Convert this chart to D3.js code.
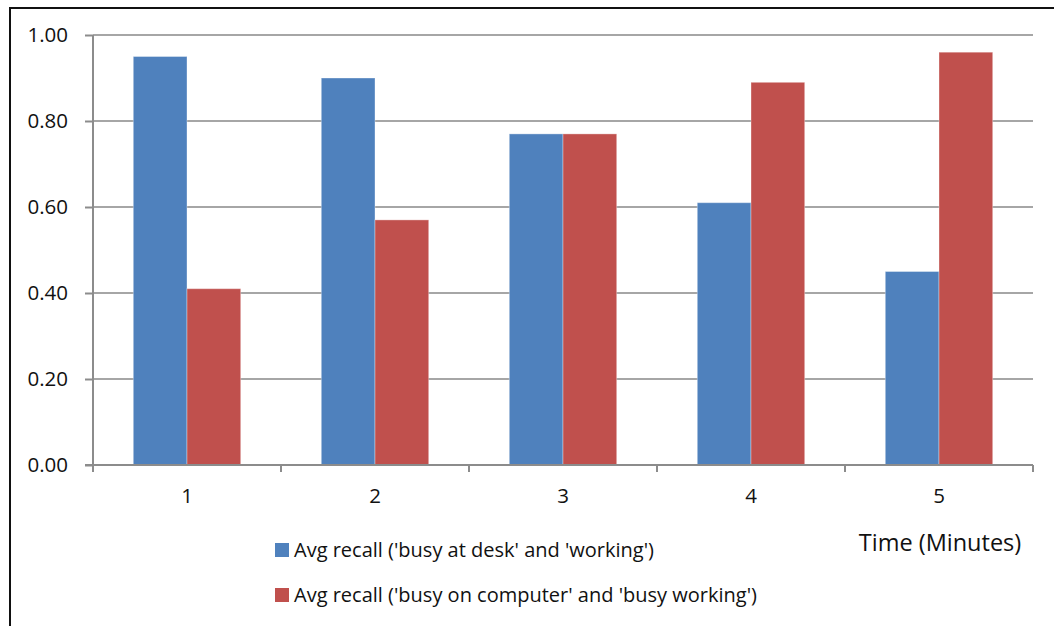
<!DOCTYPE html>
<html>
<head>
<meta charset="utf-8">
<script src="https://cdn.jsdelivr.net/npm/d3@7"></script>
<style>
  html, body { margin: 0; padding: 0; background: #ffffff; }
  svg { display: block; }
  text { font-family: "Open Sans", "Liberation Sans", sans-serif; fill: #111; }
</style>
</head>
<body>
<svg id="chart" width="1054" height="626"></svg>
<script>
// Minutes after the event
const categories = ["1", "2", "3", "4", "5"];
// Average recall per minute for each labelling pair
const seriesNames = [
  "Avg recall ('busy at desk' and 'working')",
  "Avg recall ('busy on computer' and 'busy working')"
];
const deskWorking = [0.95, 0.90, 0.77, 0.61, 0.45];
const computerBusyWorking = [0.41, 0.57, 0.77, 0.89, 0.96];
const yTicks = [0, 0.2, 0.4, 0.6, 0.8, 1.0];
const xTitle = "Time (Minutes)";
const colors = ["#4F81BD", "#C0504D"];

const seriesValues = [deskWorking, computerBusyWorking];

const svg = d3.select("#chart");

// Outer chart frame
svg.append("rect")
  .attr("x", 10).attr("y", 8)
  .attr("width", 1100).attr("height", 700)
  .attr("fill", "none")
  .attr("stroke", "#111").attr("stroke-width", 2);

const plot = { left: 93, right: 1033, top: 35, bottom: 465 };

const x = d3.scaleBand()
  .domain(categories)
  .range([plot.left, plot.right])
  .paddingInner(0)
  .paddingOuter(0);

const inner = d3.scaleBand()
  .domain(d3.range(seriesValues.length))
  .range([0, x.bandwidth()])
  .paddingInner(0)
  .paddingOuter(0.75);

const y = d3.scaleLinear().domain([0, 1]).range([plot.bottom, plot.top]);

// Horizontal gridlines
svg.append("g")
  .selectAll("line")
  .data(yTicks.filter(d => d > 0))
  .join("line")
  .attr("x1", plot.left).attr("x2", plot.right)
  .attr("y1", d => y(d)).attr("y2", d => y(d))
  .attr("stroke", "#a6a6a6").attr("stroke-width", 2);

// Bars
seriesValues.forEach((vals, si) => {
  svg.append("g")
    .selectAll("rect")
    .data(vals)
    .join("rect")
    .attr("x", (d, i) => x(categories[i]) + inner(si))
    .attr("y", d => y(d))
    .attr("width", inner.bandwidth())
    .attr("height", d => y(0) - y(d))
    .attr("fill", colors[si])
    .attr("stroke", "rgba(255,255,255,0.35)")
    .attr("stroke-width", 1);
});

// Y axis
const yAxis = d3.axisLeft(y)
  .tickValues(yTicks)
  .tickFormat(d3.format(".2f"))
  .tickSize(8)
  .tickPadding(17);

const gy = svg.append("g")
  .attr("transform", `translate(${plot.left},0)`)
  .call(yAxis);
gy.select(".domain").attr("stroke", "#8c8c8c").attr("stroke-width", 2)
  .attr("d", `M0,${plot.top}V${plot.bottom}`);
gy.selectAll(".tick line").attr("stroke", "#8c8c8c").attr("stroke-width", 2);
gy.selectAll(".tick text")
  .style("font-size", "20.5px")
  .style("fill", "#111");

// X axis with ticks on category boundaries
const gx = svg.append("g")
  .attr("transform", `translate(0,${plot.bottom})`)
  .call(d3.axisBottom(x).tickSize(0).tickPadding(23));
gx.select(".domain").attr("stroke", "#8c8c8c").attr("stroke-width", 2)
  .attr("d", `M${plot.left - 8},0H${plot.right}`);
gx.selectAll(".tick text").style("font-size", "20.5px").style("fill", "#111");

const boundaries = categories.map(c => x(c)).concat([x(categories[categories.length - 1]) + x.bandwidth()]);
gx.append("g")
  .selectAll("line")
  .data(boundaries)
  .join("line")
  .attr("x1", d => d).attr("x2", d => d)
  .attr("y1", 0).attr("y2", 7)
  .attr("stroke", "#8c8c8c").attr("stroke-width", 2);

// Axis title
svg.append("text")
  .attr("x", 940).attr("y", 551)
  .attr("text-anchor", "middle")
  .style("font-size", "23.5px")
  .text(xTitle);

// Legend
const legend = svg.append("g");
seriesNames.forEach((name, i) => {
  const row = legend.append("g").attr("transform", `translate(275,${543 + i * 45})`);
  row.append("rect")
    .attr("width", 14).attr("height", 14)
    .attr("fill", colors[i]);
  row.append("text")
    .attr("x", 19).attr("y", 14)
    .style("font-size", "20px")
    .text(name);
});
</script>
</body>
</html>
